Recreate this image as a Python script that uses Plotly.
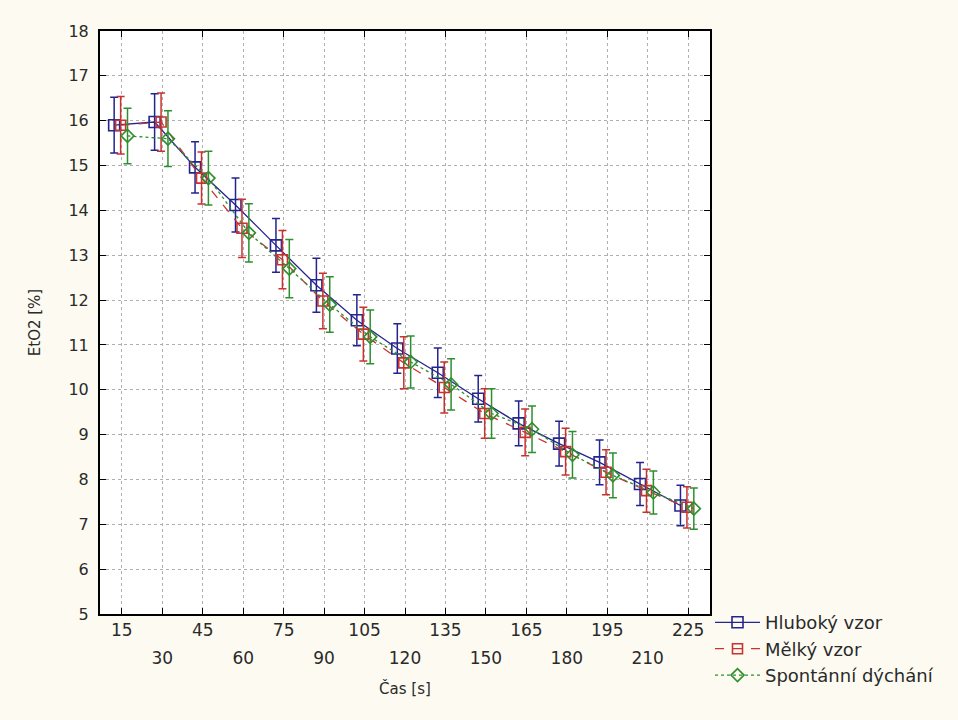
import numpy as np
import plotly.graph_objects as go

times = [15, 30, 45, 60, 75, 90, 105, 120, 135, 150, 165, 180, 195, 210, 225]
hluboky = [15.90, 15.97, 14.96, 14.12, 13.22, 12.33, 11.55, 10.92, 10.38, 9.80, 9.25, 8.80, 8.38, 7.90, 7.42]
hluboky_err = [0.62, 0.63, 0.57, 0.60, 0.60, 0.60, 0.57, 0.55, 0.55, 0.52, 0.50, 0.50, 0.50, 0.48, 0.45]
melky = [15.90, 15.97, 14.72, 13.60, 12.90, 11.98, 11.24, 10.60, 10.05, 9.47, 9.05, 8.62, 8.16, 7.75, 7.38]
melky_err = [0.64, 0.65, 0.58, 0.65, 0.65, 0.62, 0.60, 0.58, 0.57, 0.55, 0.52, 0.52, 0.50, 0.48, 0.46]
spontanni = [15.66, 15.60, 14.72, 13.50, 12.70, 11.90, 11.18, 10.62, 10.12, 9.47, 9.12, 8.55, 8.09, 7.71, 7.35]
spontanni_err = [0.62, 0.62, 0.60, 0.65, 0.65, 0.62, 0.60, 0.58, 0.57, 0.55, 0.52, 0.52, 0.50, 0.48, 0.46]

series_names = ["Hluboký vzor", "Mělký vzor", "Spontánní dýchání"]

idx = np.arange(1, len(times) + 1)
odd_vals = [i for i in idx if i % 2 == 1]
even_vals = [i for i in idx if i % 2 == 0]
odd_text = [str(times[i - 1]) for i in odd_vals]
even_text = [str(times[i - 1]) for i in even_vals]

FONT = "DejaVu Sans, Verdana, sans-serif"
TXT = "#2a2a2a"
BLUE = "#24248f"
RED = "#c8322f"
GREEN = "#2e8f2e"

fig = go.Figure()

specs = [
    (hluboky, hluboky_err, -0.19, BLUE, "solid", "square-open", 11),
    (melky, melky_err, -0.03, RED, "dash", "square-open", 10),
    (spontanni, spontanni_err, 0.14, GREEN, "dot", "diamond-open", 10),
]
for name, (vals, errs, off, col, dash, sym, ms) in zip(series_names, specs):
    fig.add_trace(go.Scatter(
        x=idx + off, y=vals, name=name, mode="lines+markers",
        line=dict(color=col, width=1.3, dash=dash),
        marker=dict(symbol=sym, size=ms, color=col, line=dict(width=1.6, color=col)),
        error_y=dict(type="data", array=errs, visible=True, color=col, thickness=1.5, width=4),
    ))

# invisible trace on secondary x axis so the second row of labels renders
fig.add_trace(go.Scatter(x=[idx[0]], y=[None], xaxis="x2", showlegend=False, hoverinfo="skip"))

fig.update_layout(
    width=958, height=720,
    paper_bgcolor="#fdfbf1",
    plot_bgcolor="#ffffff",
    margin=dict(l=100, r=248, t=31, b=106),
    font=dict(family=FONT, size=15, color=TXT),
    showlegend=True,
    legend=dict(x=1.0, y=0.017, xanchor="left", yanchor="top",
                bgcolor="rgba(0,0,0,0)", font=dict(size=18, color=TXT),
                tracegroupgap=0, itemwidth=45),
    xaxis=dict(
        range=[0.46, 15.54], tickmode="array", tickvals=odd_vals, ticktext=odd_text,
        showline=True, linecolor="black", linewidth=2, mirror="ticks",
        ticks="inside", ticklen=6, tickcolor="black", tickwidth=1,
        showgrid=True, gridcolor="#b0b0b0", griddash="dot", gridwidth=1,
        zeroline=False,
        title=dict(text="Čas [s]", font=dict(size=15, color=TXT), standoff=44),
        tickfont=dict(size=17, color=TXT),
    ),
    xaxis2=dict(
        range=[0.46, 15.54], overlaying="x", side="bottom", anchor="y",
        tickmode="array", tickvals=even_vals, ticktext=even_text,
        ticks="inside", ticklen=6, tickcolor="black", tickwidth=1,
        showline=False, showgrid=True, gridcolor="#b0b0b0", griddash="dot", gridwidth=1,
        zeroline=False, ticklabelstandoff=32,
        tickfont=dict(size=17, color=TXT),
    ),
    yaxis=dict(
        range=[5, 18], dtick=1, tick0=5,
        showline=True, linecolor="black", linewidth=2, mirror="ticks",
        ticks="inside", ticklen=6, tickcolor="black", tickwidth=1,
        showgrid=True, gridcolor="#b0b0b0", griddash="dot", gridwidth=1,
        zeroline=False, ticklabelstandoff=6,
        title=dict(text="EtO2 [%]", font=dict(size=15, color=TXT), standoff=24),
        tickfont=dict(size=16, color=TXT),
    ),
)

fig.write_html("out.html")
